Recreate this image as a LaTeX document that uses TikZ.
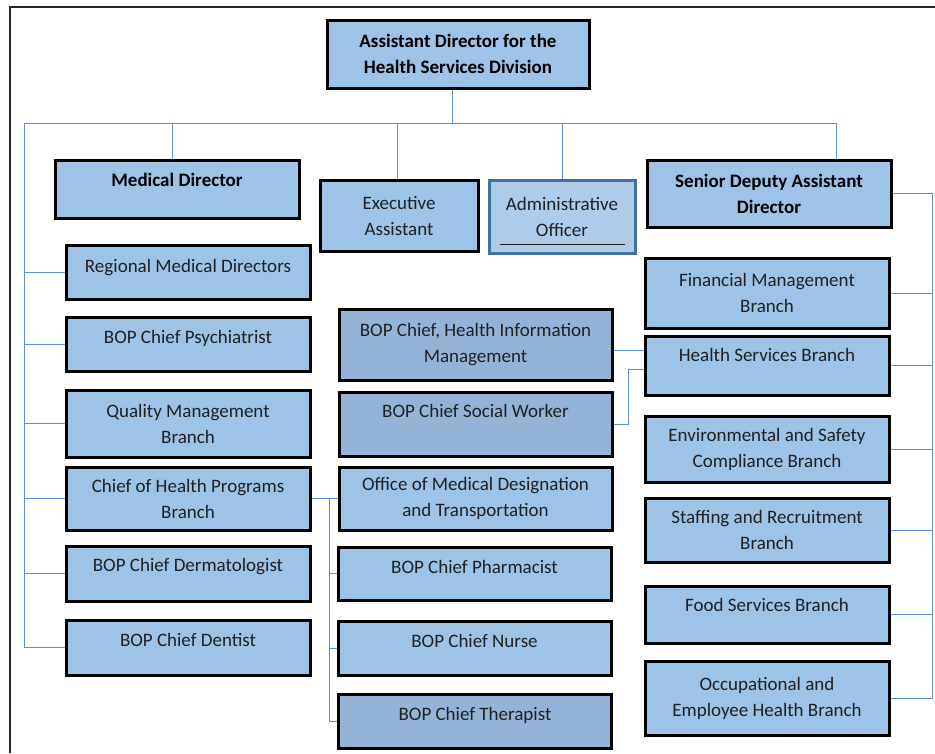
\documentclass[tikz,border=0pt]{standalone}
\usepackage{fontspec}
\setmainfont{Carlito}
\usetikzlibrary{calc}
\definecolor{boxfill}{HTML}{9DC3E6}
\definecolor{darkfill}{HTML}{95B3D7}
\definecolor{aofill}{HTML}{AECBEA}
\definecolor{aoborder}{HTML}{41719C}
\definecolor{conn}{HTML}{5B8FD0}
\definecolor{txt}{HTML}{202020}
\tikzset{
  orgbox/.style={draw=black, line width=3pt, fill=boxfill, rectangle, inner sep=2pt,
    align=center, text=txt, font=\fontsize{19}{26}\selectfont},
  darkbox/.style={orgbox, fill=darkfill},
  boldbox/.style={orgbox, text=black, font=\fontsize{19}{26}\selectfont\bfseries},
  lift/.style={text height=13pt, text depth=#1},
  link/.style={draw=conn, line width=1pt},
}
\begin{document}
\begin{tikzpicture}[x=1pt,y=-1pt]
\useasboundingbox (0,0) rectangle (935,753);
% frame
\draw[line width=1.6pt, black!85] (10,753) -- (10,7) -- (935,7);

% top level
\node[boldbox, minimum width=262pt, minimum height=68pt] (ad) at (458,54) {Assistant Director for the\\Health Services Division};

% second level
\node[boldbox, lift=18.8pt, minimum width=244pt, minimum height=58pt] (md) at (177,189) {Medical Director};
\node[orgbox, minimum width=158pt, minimum height=71pt] (ea) at (399,215.5) {Executive\\Assistant};
\node[orgbox, draw=aoborder, fill=aofill, minimum width=146pt, minimum height=73pt] (ao) at (562,216.5) {Administrative\\Officer};
\node[boldbox, minimum width=244pt, minimum height=67pt] (sda) at (769,193.5) {Senior Deputy Assistant\\Director};
\draw[txt, line width=1pt] ([xshift=12pt,yshift=10pt]ao.south west) -- ([xshift=-12pt,yshift=10pt]ao.south east);

% left column
\node[orgbox, lift=12.8pt, minimum width=244pt, minimum height=54pt] (rmd) at (188,272) {Regional Medical Directors};
\node[orgbox, lift=14.8pt, minimum width=244pt, minimum height=54pt] (psy) at (188,344) {BOP Chief Psychiatrist};
\node[orgbox, minimum width=244pt, minimum height=67pt] (qm) at (188,423.5) {Quality Management\\Branch};
\node[orgbox, minimum width=244pt, minimum height=63pt] (chp) at (188,498.5) {Chief of Health Programs\\Branch};
\node[orgbox, lift=17.8pt, minimum width=244pt, minimum height=55pt] (der) at (188,573.5) {BOP Chief Dermatologist};
\node[orgbox, lift=14.8pt, minimum width=244pt, minimum height=55pt] (den) at (188,647.5) {BOP Chief Dentist};

% middle column
\node[darkbox, minimum width=273pt, minimum height=71pt] (him) at (475.5,344.5) {BOP Chief, Health Information\\Management};
\node[darkbox, lift=26.8pt, minimum width=273pt, minimum height=64pt] (sw) at (475.5,424) {BOP Chief Social Worker};
\node[orgbox, minimum width=273pt, minimum height=63pt] (omd) at (475.5,498.5) {Office of Medical Designation\\and Transportation};
\node[orgbox, lift=13.8pt, minimum width=273pt, minimum height=53pt] (pha) at (474.5,573.5) {BOP Chief Pharmacist};
\node[orgbox, lift=14.8pt, minimum width=273pt, minimum height=54pt] (nur) at (474.5,648) {BOP Chief Nurse};
\node[darkbox, lift=14.8pt, minimum width=273pt, minimum height=54pt] (the) at (475,721) {BOP Chief Therapist};

% right column
\node[orgbox, minimum width=244pt, minimum height=70pt] (fmb) at (767,293) {Financial Management\\Branch};
\node[orgbox, lift=21.8pt, minimum width=244pt, minimum height=59pt] (hsb) at (767,365.5) {Health Services Branch};
\node[orgbox, minimum width=244pt, minimum height=66pt] (esc) at (767,449) {Environmental and Safety\\Compliance Branch};
\node[orgbox, minimum width=244pt, minimum height=64pt] (srb) at (767,530) {Staffing and Recruitment\\Branch};
\node[orgbox, lift=18.8pt, minimum width=244pt, minimum height=57pt] (fsb) at (767,614.5) {Food Services Branch};
\node[orgbox, minimum width=244pt, minimum height=74pt] (occ) at (767,698) {Occupational and\\Employee Health Branch};

% connectors: top
\coordinate (hl) at (24,123);
\coordinate (hr) at (836,123);
\coordinate (lb) at (24,647.5);
\draw[link] ([xshift=-6pt]ad.south) -- ([xshift=-6pt]ad.south |- hl);
\draw[link] (hl) -- (hr);
\draw[link] (hr) -- (hr |- sda.north);
\draw[link] ([xshift=-5pt]md.north |- hl) -- ([xshift=-5pt]md.north);
\draw[link] ([xshift=-2pt]ea.north |- hl) -- ([xshift=-2pt]ea.north);
\draw[link] (ao.north |- hl) -- (ao.north);

% left bus
\draw[link] (hl) -- (lb) -- (den.west);
\foreach \n in {rmd,psy,qm,chp,der}{
  \draw[link] (\n.west -| lb) -- (\n.west);
}

% middle bus
\coordinate (mb) at (329,498.5);
\draw[link] (chp.east) -- (mb) -- (mb |- the.west) -- (the.west);
\foreach \n in {omd,pha,nur}{
  \draw[link] (\n.west -| mb) -- (\n.west);
}

% health services links
\draw[link] ([yshift=-6pt]him.east) -- ([yshift=-6pt]him.east -| hsb.west);
\draw[link] (sw.east) -- ++(15,0) |- ([yshift=-4pt]hsb.west);

% right bus
\coordinate (rb) at (932,193.5);
\draw[link] (sda.east) -- (rb) -- (rb |- occ.east) -- (occ.east);
\foreach \n in {fmb,hsb,esc,srb,fsb}{
  \draw[link] (\n.east) -- (\n.east -| rb);
}
\end{tikzpicture}
\end{document}
